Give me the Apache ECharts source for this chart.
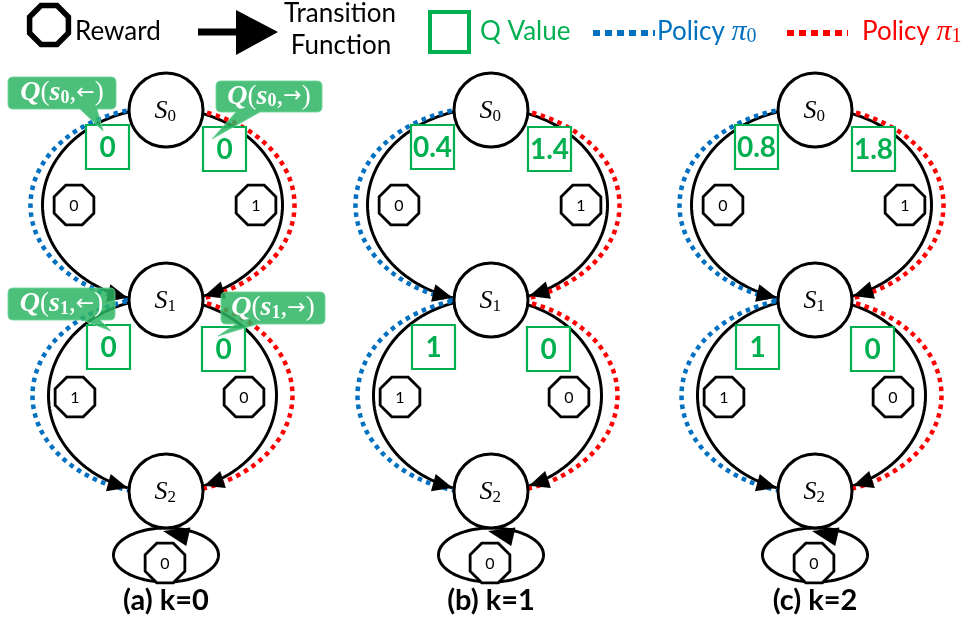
<!DOCTYPE html>
<html><head><meta charset="utf-8">
<script src="https://cdn.jsdelivr.net/npm/echarts@6/dist/echarts.min.js"></script>
<style>html,body{margin:0;padding:0;background:#fff}#c{width:972px;height:618px}</style>
</head><body><div id="c"></div>
<script>
// ---------- data ----------
const panelLabels = ['(a) k=0', '(b) k=1', '(c) k=2'];
const stateSubs = ['0', '1', '2'];
const qS0Left  = [0, 0.4, 0.8];
const qS0Right = [0, 1.4, 1.8];
const qS1Left  = [0, 1, 1];
const qS1Right = [0, 0, 0];
// rewards: s0 left, s0 right, s1 left, s1 right, s2 self-loop
const rewards = [0, 1, 1, 0, 0];
const legendTexts = ['Reward', 'Transition', 'Function', 'Q Value', 'Policy '];
const policySubs = ['0', '1'];
const calloutSubs = ['0', '0', '1', '1'];
const calloutArrows = ['←', '→', '←', '→'];

// ---------- style / layout ----------
const BLUE = '#0070C0', RED = '#FF0000', GREEN = '#00B050', CALLOUT = '#2db563';
const FONT = 'Lato, "Open Sans", sans-serif';
const SERIF = '"Liberation Serif", "DejaVu Serif", serif';
const NODE_X = [166, 491, 815];
const NODE_Y = [110, 300, 491];
const NODE_R = 37;

function octPts(P, x, y, R) {
  const pts = [];
  for (let i = 0; i < 8; i++) {
    const a = (22.5 + 45 * i) * Math.PI / 180;
    pts.push(P(x + R * Math.cos(a), y + R * Math.sin(a)));
  }
  return pts;
}
function ellPts(P, ex, ey, rx, ry, t0, t1, sign, n) {
  const pts = [];
  for (let i = 0; i <= n; i++) {
    const t = t0 + (t1 - t0) * i / n;
    pts.push(P(ex + sign * rx * Math.cos(t), ey + ry * Math.sin(t)));
  }
  return pts;
}
function arrowTri(P, tip, dir, len, hw) {
  const bx = tip[0] - dir[0] * len, by = tip[1] - dir[1] * len;
  return [P(tip[0], tip[1]), P(bx - dir[1] * hw, by + dir[0] * hw), P(bx + dir[1] * hw, by - dir[0] * hw)];
}
function fmt(v) { return String(v); }

function renderPanel(params, api) {
  const p = api.value(0);
  const cx = NODE_X[p];
  const P = (x, y) => api.coord([x, y]);
  const k = api.size([1, 1])[0];
  const ch = [];
  const arcs = [
    { ey: (NODE_Y[0] + NODE_Y[1]) / 2, rx: 120, rdx: 132, ry: 97, target: 1 },
    { ey: (NODE_Y[1] + NODE_Y[2]) / 2, rx: 114, rdx: 130, ry: 97, target: 2 }
  ];
  const ex = cx - 3.5;
  arcs.forEach(a => {
    ch.push({ type: 'polygon', shape: { points: ellPts(P, ex, a.ey, a.rx, a.ry, 0, 2 * Math.PI, 1, 180) },
      style: { fill: 'none', stroke: '#000', lineWidth: 3 * k } });
  });
  arcs.forEach(a => {
    ch.push({ type: 'polyline', shape: { points: ellPts(P, ex, a.ey, a.rdx, a.ry + 1, -Math.PI / 2, Math.PI / 2, -1, 120) },
      style: { fill: 'none', stroke: BLUE, lineWidth: 4.5 * k, lineDash: [4.5 * k, 4.5 * k] } });
    ch.push({ type: 'polyline', shape: { points: ellPts(P, ex, a.ey, a.rdx, a.ry + 1, -Math.PI / 2, Math.PI / 2, 1, 120) },
      style: { fill: 'none', stroke: RED, lineWidth: 4.5 * k, lineDash: [4.5 * k, 4.5 * k] } });
  });
  // arrowheads
  arcs.forEach(a => {
    [-1, 1].forEach(sign => {
      let t = 0, x = 0, y = 0;
      for (; t < Math.PI / 2; t += 0.002) {
        x = ex + sign * a.rx * Math.cos(t); y = a.ey + a.ry * Math.sin(t);
        if (Math.hypot(x - cx, y - NODE_Y[a.target]) <= NODE_R + 1.5) break;
      }
      let dx = -sign * a.rx * Math.sin(t), dy = a.ry * Math.cos(t);
      const L = Math.hypot(dx, dy); dx /= L; dy /= L;
      ch.push({ type: 'polygon', shape: { points: arrowTri(P, [x, y], [dx, dy], 20, 9) }, style: { fill: '#000' } });
    });
  });
  // self loop
  ch.push({ type: 'polygon', shape: { points: ellPts(P, cx, 555, 52.5, 27, 0, 2 * Math.PI, 1, 120) },
    style: { fill: 'none', stroke: '#000', lineWidth: 3 * k } });
  // nodes
  NODE_Y.forEach((ny, i) => {
    const c = P(cx, ny);
    ch.push({ type: 'circle', shape: { cx: c[0], cy: c[1], r: NODE_R * k }, style: { fill: '#fff', stroke: '#000', lineWidth: 3 * k } });
    const s = P(cx + 1.5, ny + 1.5);
    ch.push({ type: 'text', style: { x: s[0], y: s[1], text: 'S', font: 'italic ' + (26 * k) + 'px ' + SERIF, fill: '#000', align: 'right', verticalAlign: 'middle' } });
    const s2 = P(cx + 1.5, ny + 7);
    ch.push({ type: 'text', style: { x: s2[0], y: s2[1], text: stateSubs[i], font: (17 * k) + 'px ' + SERIF, fill: '#000', align: 'left', verticalAlign: 'middle' } });
  });
  // loop arrowhead
  ch.push({ type: 'polygon', shape: { points: arrowTri(P, [cx - 3, 531], [-0.975, -0.22], 26, 9.5) }, style: { fill: '#000' } });
  // reward octagons
  const octs = [[cx - 92, 205], [cx + 90, 205], [cx - 91, 397], [cx + 78, 397], [cx - 1, 563]];
  octs.forEach((o, i) => {
    ch.push({ type: 'polygon', shape: { points: octPts(P, o[0], o[1], 21.5) }, style: { fill: '#fff', stroke: '#000', lineWidth: 2.8 * k } });
    const t = P(o[0], o[1] + 1);
    ch.push({ type: 'text', style: { x: t[0], y: t[1], text: fmt(rewards[i]), font: (16 * k) + 'px ' + FONT, fill: '#000', align: 'center', verticalAlign: 'middle' } });
  });
  // Q boxes
  const qv = [qS0Left[p], qS0Right[p], qS1Left[p], qS1Right[p]];
  const boxes = [[cx - 80, 125], [cx + 37, 127], [cx - 79, 325], [cx + 36, 327]];
  boxes.forEach((b, i) => {
    const tl = P(b[0], b[1]);
    ch.push({ type: 'rect', shape: { x: tl[0], y: tl[1], width: 43 * k, height: 44 * k }, style: { fill: '#fff', stroke: GREEN, lineWidth: 2.2 * k } });
    const t = P(b[0] + 21.5, b[1] + 23);
    ch.push({ type: 'text', style: { x: t[0], y: t[1], text: fmt(qv[i]), font: 'bold ' + (28 * k) + 'px ' + FONT, fill: GREEN, align: 'center', verticalAlign: 'middle' } });
  });
  // callouts (panel a only)
  if (p === 0) {
    const cs = [
      { r: [8, 77, 116, 109], b: [80, 97], tip: [103, 131] },
      { r: [216, 81, 322, 112], b: [236, 260], tip: [212, 139] },
      { r: [8, 288, 115, 320], b: [82, 100], tip: [111, 331] },
      { r: [221, 292, 325, 324], b: [236, 258], tip: [218, 336] }
    ];
    cs.forEach((c, i) => {
      const [x0, y0, x1, y1] = c.r, rr = 5;
      const q = (x, y) => P(x, y).join(',');
      const d = 'M' + q(x0 + rr, y0) + ' L' + q(x1 - rr, y0) + ' Q' + q(x1, y0) + ' ' + q(x1, y0 + rr) +
        ' L' + q(x1, y1 - rr) + ' Q' + q(x1, y1) + ' ' + q(x1 - rr, y1) + ' L' + q(c.b[1], y1) + ' L' + q(c.tip[0], c.tip[1]) +
        ' L' + q(c.b[0], y1) + ' L' + q(x0 + rr, y1) + ' Q' + q(x0, y1) + ' ' + q(x0, y1 - rr) + ' L' + q(x0, y0 + rr) +
        ' Q' + q(x0, y0) + ' ' + q(x0 + rr, y0) + ' Z';
      ch.push({ type: 'path', shape: { pathData: d }, style: { fill: CALLOUT, opacity: 0.85, stroke: '#6fd397', lineWidth: 1 } });
      const t = P((x0 + x1) / 2, (y0 + y1) / 2);
      ch.push({ type: 'text', style: { x: t[0], y: t[1], align: 'center', verticalAlign: 'middle',
        text: '{m|Q}{n|(}{m|s}{sub|' + calloutSubs[i] + '}{n|,}{ar|' + calloutArrows[i] + '}{n|)}',
        rich: {
          m: { font: 'bold italic ' + (28 * k) + 'px ' + SERIF, fill: '#fff', lineHeight: 28 * k },
          n: { font: (27 * k) + 'px ' + SERIF, fill: '#fff', lineHeight: 28 * k },
          ar: { font: (22 * k) + 'px "DejaVu Sans", sans-serif', fill: '#fff', lineHeight: 28 * k },
          sub: { font: 'bold ' + (18 * k) + 'px ' + SERIF, fill: '#fff', lineHeight: 18 * k, verticalAlign: 'bottom' }
        } } });
    });
  }
  // panel label
  const lt = P(cx, 601);
  ch.push({ type: 'text', style: { x: lt[0], y: lt[1], text: panelLabels[p], font: 'bold ' + (29 * k) + 'px ' + FONT, fill: '#000', align: 'center', verticalAlign: 'middle' } });
  return { type: 'group', children: ch };
}

function renderLegend(params, api) {
  const P = (x, y) => api.coord([x, y]);
  const k = api.size([1, 1])[0];
  const ch = [];
  ch.push({ type: 'polygon', shape: { points: octPts(P, 49, 25, 21) }, style: { fill: '#fff', stroke: '#000', lineWidth: 5.5 * k } });
  let t = P(75, 32);
  ch.push({ type: 'text', style: { x: t[0], y: t[1], text: legendTexts[0], font: (26 * k) + 'px ' + FONT, fill: '#000', align: 'left', verticalAlign: 'middle' } });
  const l0 = P(198, 32), l1 = P(240, 32);
  ch.push({ type: 'line', shape: { x1: l0[0], y1: l0[1], x2: l1[0], y2: l1[1] }, style: { stroke: '#000', lineWidth: 7 * k } });
  ch.push({ type: 'polygon', shape: { points: [P(236, 10), P(236, 55), P(278, 32)] }, style: { fill: '#000' } });
  t = P(340, 14);
  ch.push({ type: 'text', style: { x: t[0], y: t[1], text: legendTexts[1], font: (26 * k) + 'px ' + FONT, fill: '#000', align: 'center', verticalAlign: 'middle' } });
  t = P(341, 46);
  ch.push({ type: 'text', style: { x: t[0], y: t[1], text: legendTexts[2], font: (26 * k) + 'px ' + FONT, fill: '#000', align: 'center', verticalAlign: 'middle' } });
  const b = P(430, 12);
  ch.push({ type: 'rect', shape: { x: b[0], y: b[1], width: 39 * k, height: 40 * k }, style: { fill: 'none', stroke: GREEN, lineWidth: 4 * k } });
  t = P(480, 32);
  ch.push({ type: 'text', style: { x: t[0], y: t[1], text: legendTexts[3], font: (26 * k) + 'px ' + FONT, fill: GREEN, align: 'left', verticalAlign: 'middle' } });
  [[593, 655, BLUE, 657], [787, 848, RED, 862]].forEach((g, i) => {
    const a = P(g[0], 33), c = P(g[1], 33);
    ch.push({ type: 'line', shape: { x1: a[0], y1: a[1], x2: c[0], y2: c[1] }, style: { stroke: g[2], lineWidth: 6 * k, lineDash: [7 * k, 5 * k] } });
    const tp = P(g[3], 32);
    ch.push({ type: 'text', style: { x: tp[0], y: tp[1], align: 'left', verticalAlign: 'middle',
      text: '{a|' + legendTexts[4] + '}{pi|π}{sub|' + policySubs[i] + '}',
      rich: {
        a: { font: (26 * k) + 'px ' + FONT, fill: g[2], lineHeight: 30 * k },
        pi: { font: 'italic ' + (30 * k) + 'px ' + SERIF, fill: g[2], lineHeight: 30 * k },
        sub: { font: (20 * k) + 'px ' + SERIF, fill: g[2], lineHeight: 20 * k, verticalAlign: 'bottom' }
      } } });
  });
  return { type: 'group', children: ch };
}

const chart = echarts.init(document.getElementById('c'));
chart.setOption({
  animation: false,
  backgroundColor: '#fff',
  grid: { left: 0, right: 0, top: 0, bottom: 0 },
  xAxis: { type: 'value', min: 0, max: 972, show: false },
  yAxis: { type: 'value', min: 0, max: 618, inverse: true, show: false },
  series: [
    { type: 'custom', coordinateSystem: 'cartesian2d', silent: true, clip: false,
      data: panelLabels.map((_, i) => [i]), encode: { x: 0 }, renderItem: renderPanel },
    { type: 'custom', coordinateSystem: 'cartesian2d', silent: true, clip: false,
      data: [[0]], encode: { x: 0 }, renderItem: renderLegend }
  ]
});
</script>
</body></html>
